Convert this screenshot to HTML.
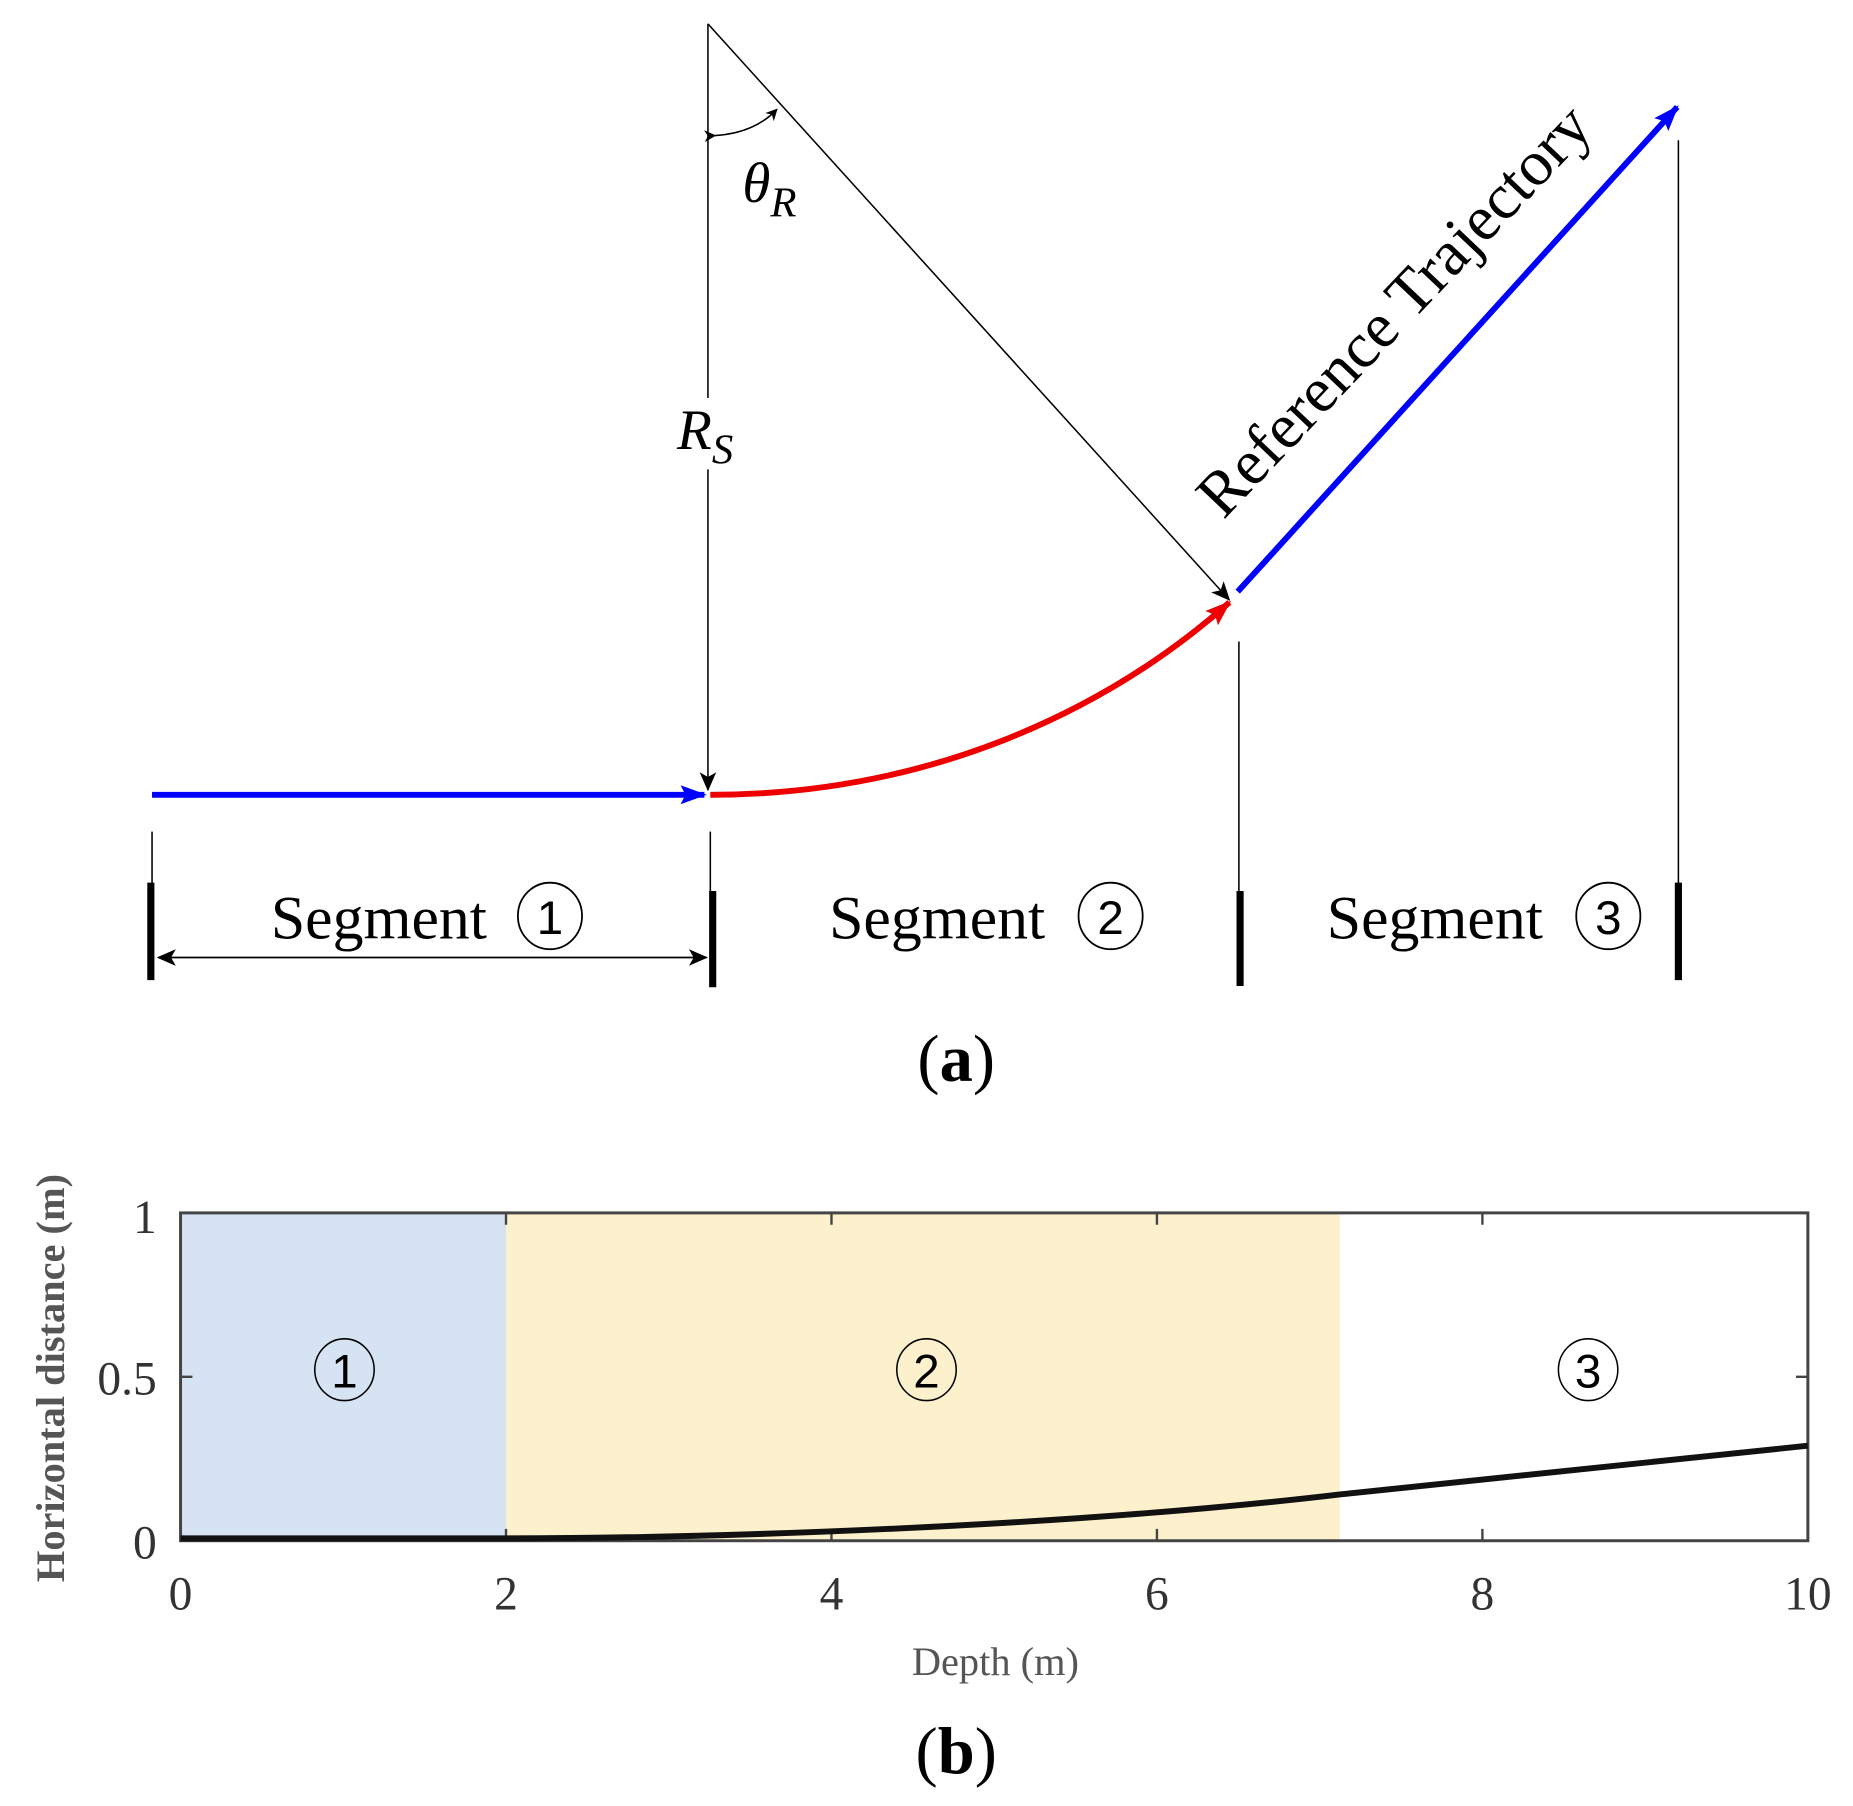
<!DOCTYPE html>
<html><head><style>html,body{margin:0;padding:0;background:#fff}</style></head><body>
<svg width="1853" height="1801" viewBox="0 0 1560 1516" xmlns="http://www.w3.org/2000/svg">
<defs>
<marker id="ak" markerWidth="10" markerHeight="10" refX="9" refY="5" orient="auto" markerUnits="userSpaceOnUse"><path d="M0,0 L10,5 L0,10 L3,5z" fill="#000"/></marker>
<marker id="ab" markerWidth="24" markerHeight="20" refX="20" refY="10" orient="auto" markerUnits="userSpaceOnUse"><path d="M0,2 L22,10 L0,18 L4,10z" fill="#00f"/></marker>
<marker id="ar" markerWidth="24" markerHeight="20" refX="20" refY="10" orient="auto" markerUnits="userSpaceOnUse"><path d="M0,2 L22,10 L0,18 L4,10z" fill="#e00"/></marker>
<marker id="ak2" markerWidth="16" markerHeight="14" refX="15" refY="7" orient="auto" markerUnits="userSpaceOnUse"><path d="M0,0 L16,7 L0,14 L4,7z" fill="#000"/></marker>
</defs>
<g stroke="#000" stroke-width="1.3" fill="none">
<line x1="596" y1="20" x2="596" y2="335"/>
<line x1="596" y1="395" x2="596" y2="665" marker-end="url(#ak2)"/>
<line x1="596" y1="20" x2="1035" y2="505" marker-end="url(#ak2)"/>
<path d="M602,114 Q635,112 654,92" marker-end="url(#ak)" marker-start="url(#ak)"/>
<line x1="128" y1="700" x2="128" y2="745"/>
<line x1="598" y1="700" x2="598" y2="750"/>
<line x1="1043" y1="540" x2="1043" y2="750"/>
<line x1="1413" y1="118" x2="1413" y2="745"/>
<line x1="140" y1="806" x2="595" y2="806" marker-end="url(#ak2)"/>
<line x1="590" y1="806" x2="133" y2="806" marker-end="url(#ak2)"/>
</g>
<g stroke="#000" stroke-width="6">
<line x1="127" y1="743" x2="127" y2="825"/>
<line x1="600" y1="750" x2="600" y2="831"/>
<line x1="1044" y1="750" x2="1044" y2="830"/>
<line x1="1413" y1="743" x2="1413" y2="825"/>
</g>
<line x1="128" y1="669" x2="593" y2="669" stroke="#00f" stroke-width="5" marker-end="url(#ab)"/>
<path d="M598,669 C780,669 930,600 1035,507" stroke="#e00" stroke-width="5" fill="none" marker-end="url(#ar)"/>
<line x1="1042" y1="498" x2="1412" y2="90" stroke="#00f" stroke-width="5" marker-end="url(#ab)"/>
<g font-family="Liberation Serif, serif" fill="#000">
<text x="625" y="170" font-size="48" font-style="italic">θ<tspan font-size="36" dy="12">R</tspan></text>
<text x="570" y="378" font-size="48" font-style="italic">R<tspan font-size="36" dy="12">S</tspan></text>
<text transform="translate(1030,438) rotate(-46.5)" font-size="54">Reference Trajectory</text>
<text x="228" y="790" font-size="52">Segment</text>
<text x="698" y="790" font-size="52">Segment</text>
<text x="1117" y="790" font-size="52">Segment</text>
<text x="805" y="910" font-size="56" text-anchor="middle">(<tspan font-weight="bold">a</tspan>)</text>
<text x="805" y="1493" font-size="56" text-anchor="middle">(<tspan font-weight="bold">b</tspan>)</text>
</g>
<g font-family="Liberation Sans, sans-serif" font-size="40" text-anchor="middle" fill="#000">
<ellipse cx="463" cy="771" rx="27" ry="28" fill="none" stroke="#000" stroke-width="1.5"/><text x="463" y="786">1</text>
<ellipse cx="935" cy="771" rx="27" ry="28" fill="none" stroke="#000" stroke-width="1.5"/><text x="935" y="786">2</text>
<ellipse cx="1354" cy="771" rx="27" ry="28" fill="none" stroke="#000" stroke-width="1.5"/><text x="1354" y="786">3</text>
</g>
<rect x="152" y="1021" width="274" height="276" fill="#d6e3f3"/>
<rect x="426" y="1021" width="702" height="276" fill="#fdf0cc"/>
<rect x="152" y="1021" width="1370" height="276" fill="none" stroke="#444" stroke-width="2.5"/>
<g stroke="#444" stroke-width="2">
<path d="M426,1021v10M700,1021v10M974,1021v10M1248,1021v10M426,1297v-10M700,1297v-10M974,1297v-10M1248,1297v-10M152,1159h10M1522,1159h-10"/>
</g>
<path d="M152,1295 L426,1295 C600,1295 900,1285 1128,1258 C1300,1240 1420,1228 1522,1217" stroke="#111" stroke-width="5" fill="none"/>
<g font-family="Liberation Sans, sans-serif" font-size="40" text-anchor="middle" fill="#000">
<ellipse cx="290" cy="1153" rx="25" ry="26" fill="none" stroke="#000" stroke-width="1.3"/><text x="290" y="1168">1</text>
<ellipse cx="780" cy="1153" rx="25" ry="26" fill="none" stroke="#000" stroke-width="1.3"/><text x="780" y="1168">2</text>
<ellipse cx="1337" cy="1153" rx="25" ry="26" fill="none" stroke="#000" stroke-width="1.3"/><text x="1337" y="1168">3</text>
</g>
<g font-family="Liberation Serif, serif" font-size="40" fill="#333">
<g text-anchor="end"><text x="132" y="1038">1</text><text x="132" y="1174">0.5</text><text x="132" y="1312">0</text></g>
<g text-anchor="middle"><text x="152" y="1355">0</text><text x="426" y="1355">2</text><text x="700" y="1355">4</text><text x="974" y="1355">6</text><text x="1248" y="1355">8</text><text x="1522" y="1355">10</text></g>
<text x="838" y="1410" font-size="34" text-anchor="middle" fill="#555">Depth (m)</text>
<text transform="translate(54,1160) rotate(-90)" font-size="34" text-anchor="middle" fill="#555" font-weight="bold">Horizontal distance (m)</text>
</g>
</svg>
</body></html>
